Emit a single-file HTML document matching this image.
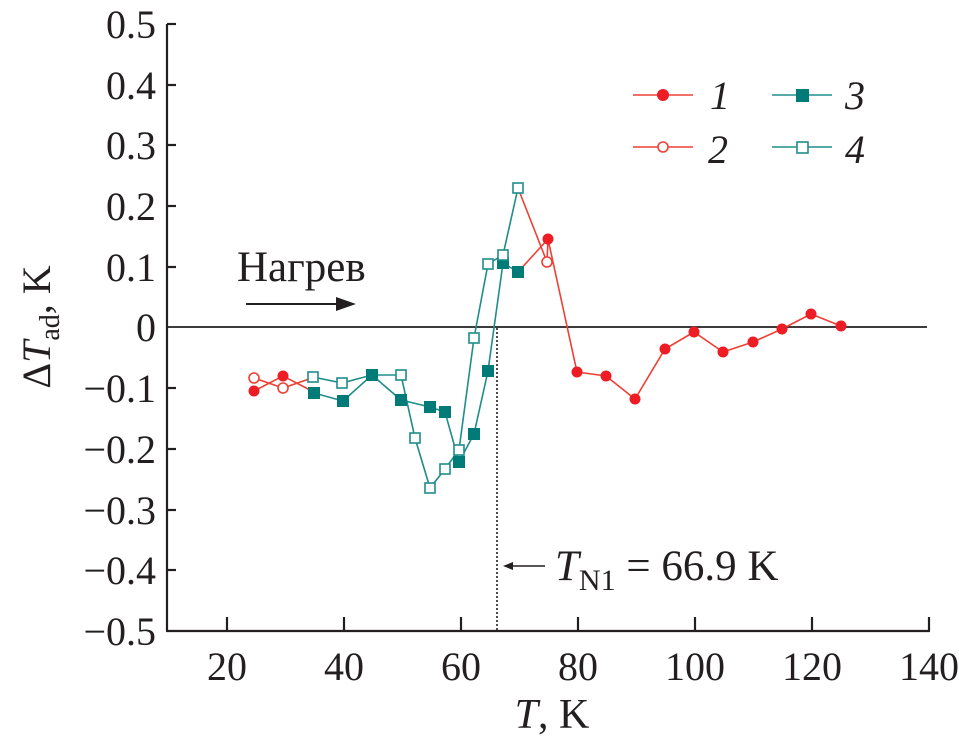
<!DOCTYPE html>
<html><head><meta charset="utf-8"><style>body{margin:0;background:#fff}</style></head><body>
<svg width="959" height="740" xmlns="http://www.w3.org/2000/svg" font-family="Liberation Serif, serif" fill="#231f20">
<g stroke="#231f20" stroke-width="2.2">
<line x1="167" y1="24" x2="167" y2="631"/>
<line x1="166" y1="631" x2="930" y2="631"/>
<line x1="167" y1="327" x2="927" y2="327" stroke-width="1.8"/>
<line x1="167" y1="24" x2="176" y2="24"/><line x1="167" y1="85" x2="176" y2="85"/><line x1="167" y1="145" x2="176" y2="145"/><line x1="167" y1="206" x2="176" y2="206"/><line x1="167" y1="267" x2="176" y2="267"/><line x1="167" y1="388" x2="176" y2="388"/><line x1="167" y1="449" x2="176" y2="449"/><line x1="167" y1="510" x2="176" y2="510"/><line x1="167" y1="570" x2="176" y2="570"/>
<line x1="227" y1="631" x2="227" y2="617"/><line x1="344" y1="631" x2="344" y2="617"/><line x1="461" y1="631" x2="461" y2="617"/><line x1="578" y1="631" x2="578" y2="617"/><line x1="695" y1="631" x2="695" y2="617"/><line x1="812" y1="631" x2="812" y2="617"/><line x1="929" y1="631" x2="929" y2="617"/>
</g>
<line x1="497" y1="328" x2="497" y2="630" stroke="#231f20" stroke-width="1.6" stroke-dasharray="2,2"/>
<g font-size="40" text-anchor="end">
<text x="156" y="38">0.5</text><text x="156" y="99">0.4</text><text x="156" y="159">0.3</text><text x="156" y="220">0.2</text><text x="156" y="281">0.1</text><text x="156" y="341">0</text><text x="156" y="402">−0.1</text><text x="156" y="463">−0.2</text><text x="156" y="524">−0.3</text><text x="156" y="584">−0.4</text><text x="156" y="645">−0.5</text>
</g>
<g font-size="40" text-anchor="middle">
<text x="227" y="680">20</text><text x="344" y="680">40</text><text x="461" y="680">60</text><text x="578" y="680">80</text><text x="695" y="680">100</text><text x="812" y="680">120</text><text x="929" y="680">140</text>
<text x="552" y="728" font-size="42"><tspan font-style="italic">T</tspan>, K</text>
</g>
<text transform="translate(50,327) rotate(-90)" font-size="40" text-anchor="middle">Δ<tspan font-style="italic">T</tspan><tspan font-size="28" dy="9">ad</tspan><tspan dy="-9">, K</tspan></text>
<text x="237" y="281" font-size="43">Нагрев</text>
<line x1="246" y1="304" x2="340" y2="304" stroke="#231f20" stroke-width="2"/>
<polygon points="356,304 336,297 336,311" fill="#231f20"/>
<line x1="545" y1="566" x2="510" y2="566" stroke="#231f20" stroke-width="1.5"/>
<polygon points="503,566 513,562 513,570" fill="#231f20"/>
<text x="555" y="580" font-size="43"><tspan font-style="italic">T</tspan><tspan font-size="30" dy="10">N1</tspan><tspan dy="-10"> = 66.9 K</tspan></text>
<g fill="none" stroke="#ee4035" stroke-width="1.6">
<polyline points="254,391 283,376 312,391"/>
<polyline points="254,378 283,388 312,378"/>
<polyline points="518,272 548,239 577,372 606,376 635,399 665,349 694,332 723,352 753,342 782,329 811,314 841,326"/>
<polyline points="518,188 547,262 548,239"/>
</g>
<g fill="none" stroke="#1f8d8a" stroke-width="1.6">
<polyline points="314,393 343,401 372,375 401,400 430,407 445,412 459,462 474,434 488,371 503,263 518,272"/>
<polyline points="313,377 342,383 372,375 401,375 415,438 430,488 445,469 459,450 474,338 488,264 503,255 518,188"/>
</g>
<g fill="#ee1c25"><circle cx="254" cy="391" r="5.5"/><circle cx="283" cy="376" r="5.5"/><circle cx="548" cy="239" r="5.5"/><circle cx="577" cy="372" r="5.5"/><circle cx="606" cy="376" r="5.5"/><circle cx="635" cy="399" r="5.5"/><circle cx="665" cy="349" r="5.5"/><circle cx="694" cy="332" r="5.5"/><circle cx="723" cy="352" r="5.5"/><circle cx="753" cy="342" r="5.5"/><circle cx="782" cy="329" r="5.5"/><circle cx="811" cy="314" r="5.5"/><circle cx="841" cy="326" r="5.5"/></g>
<g fill="#fff" stroke="#ee4035" stroke-width="1.6"><circle cx="254" cy="378" r="5"/><circle cx="283" cy="388" r="5"/><circle cx="547" cy="262" r="5"/></g>
<g fill="#007b78"><rect x="308" y="387" width="12" height="12"/><rect x="337" y="395" width="12" height="12"/><rect x="366" y="369" width="12" height="12"/><rect x="395" y="394" width="12" height="12"/><rect x="424" y="401" width="12" height="12"/><rect x="439" y="406" width="12" height="12"/><rect x="453" y="456" width="12" height="12"/><rect x="468" y="428" width="12" height="12"/><rect x="482" y="365" width="12" height="12"/><rect x="497" y="257" width="12" height="12"/><rect x="512" y="266" width="12" height="12"/></g>
<g fill="#fff" stroke="#1f8d8a" stroke-width="1.6"><rect x="308" y="372" width="10" height="10"/><rect x="337" y="378" width="10" height="10"/><rect x="396" y="370" width="10" height="10"/><rect x="410" y="433" width="10" height="10"/><rect x="425" y="483" width="10" height="10"/><rect x="440" y="464" width="10" height="10"/><rect x="454" y="445" width="10" height="10"/><rect x="469" y="333" width="10" height="10"/><rect x="483" y="259" width="10" height="10"/><rect x="498" y="250" width="10" height="10"/><rect x="513" y="183" width="10" height="10"/></g>
<line x1="633" y1="95" x2="693" y2="95" stroke="#ee4035" stroke-width="1.6"/><circle cx="663" cy="95" r="6" fill="#ee1c25"/>
<line x1="633" y1="147" x2="693" y2="147" stroke="#ee4035" stroke-width="1.6"/><circle cx="663" cy="147" r="5" fill="#fff" stroke="#ee4035" stroke-width="1.6"/>
<line x1="772" y1="95" x2="832" y2="95" stroke="#1f8d8a" stroke-width="1.6"/><rect x="796" y="89" width="13" height="13" fill="#007b78"/>
<line x1="772" y1="147" x2="832" y2="147" stroke="#1f8d8a" stroke-width="1.6"/><rect x="797" y="142" width="11" height="11" fill="#fff" stroke="#1f8d8a" stroke-width="1.6"/>
<g font-size="40" font-style="italic"><text x="710" y="109">1</text><text x="708" y="163">2</text><text x="845" y="109">3</text><text x="845" y="163">4</text></g>
</svg>
</body></html>
